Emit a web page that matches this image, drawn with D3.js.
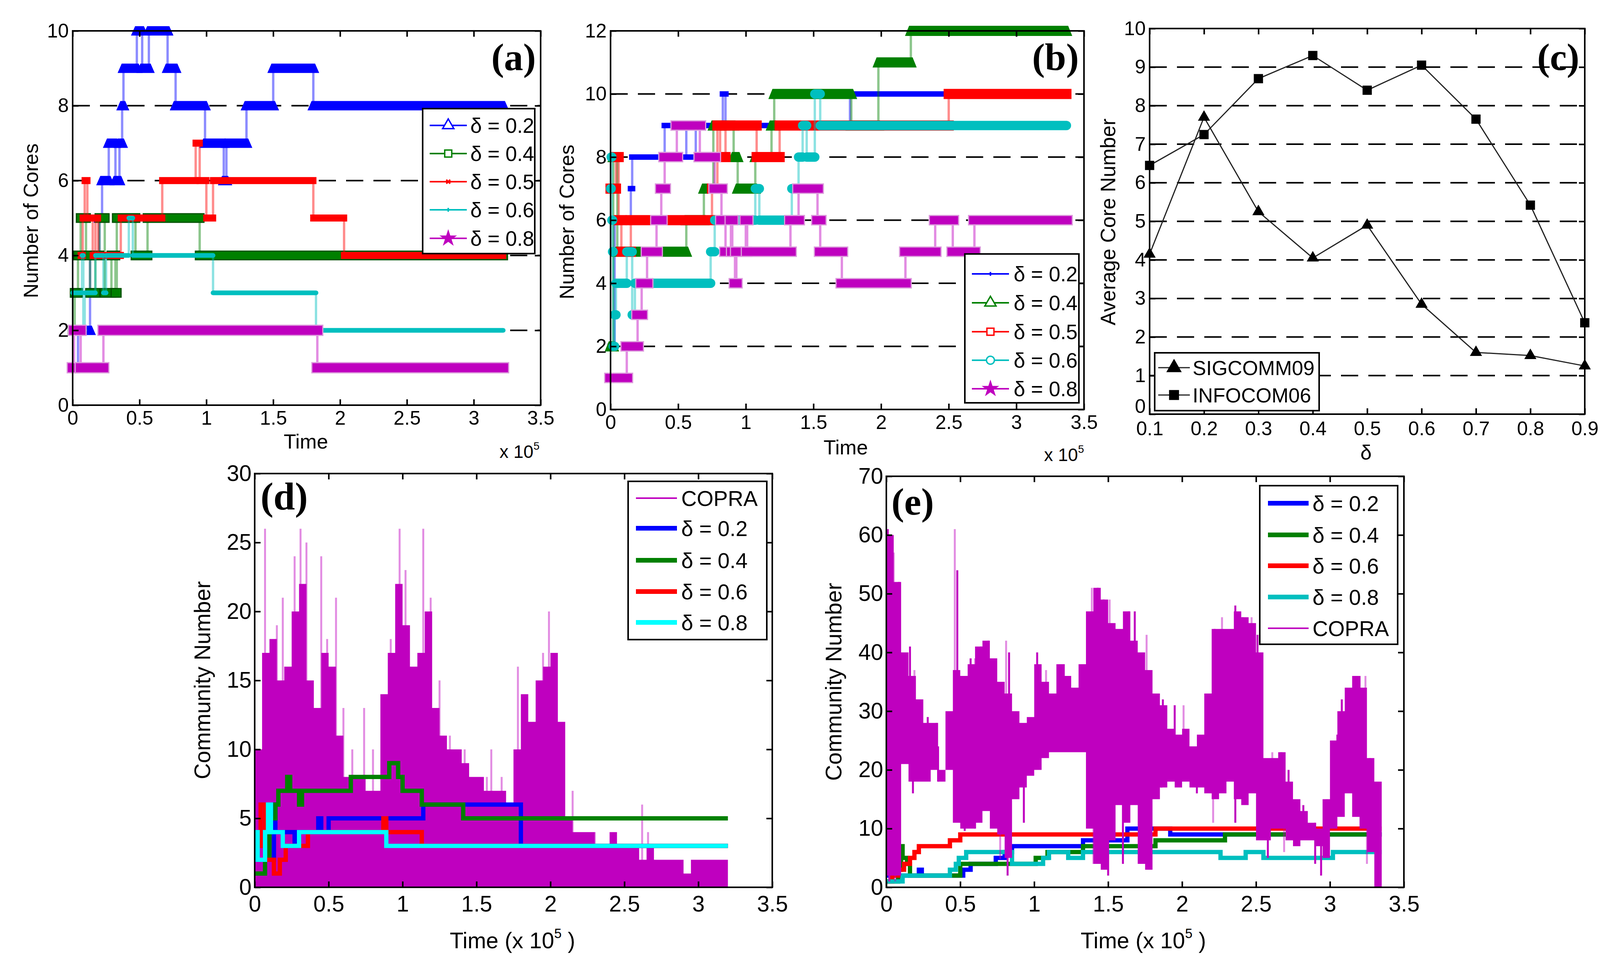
<!DOCTYPE html>
<html>
<head>
<meta charset="utf-8">
<script src="https://cdn.jsdelivr.net/npm/d3@7"></script>
<style>
  body { margin: 0; background: #fff; }
  text { fill: #000; }
</style>
</head>
<body>
<svg id="fig" width="4127" height="2498"></svg>
<script>
// ---------- data ----------
const timeTicks = [0, 0.5, 1, 1.5, 2, 2.5, 3, 3.5];
const coresTicksA = [0, 2, 4, 6, 8, 10];
const coresTicksB = [0, 2, 4, 6, 8, 10, 12];
const deltaTicks = [0.1, 0.2, 0.3, 0.4, 0.5, 0.6, 0.7, 0.8, 0.9];
const avgTicks = [0, 1, 2, 3, 4, 5, 6, 7, 8, 9, 10];
const commTicksD = [0, 5, 10, 15, 20, 25, 30];
const commTicksE = [0, 10, 20, 30, 40, 50, 60, 70];

const labelsAB = ["δ = 0.2", "δ = 0.4", "δ = 0.5", "δ = 0.6", "δ = 0.8"];
const labelsDE = ["δ = 0.2", "δ = 0.4", "δ = 0.6", "δ = 0.8"];

// step series: [time (x 1e5), value]; the last pair marks where the trace stops
const a_d02 = [[0,1],[0.04,2],[0.13,4],[0.2,5],[0.22,6],[0.27,7],[0.32,6],[0.35,7],[0.37,8],[0.38,9],[0.48,10],[0.52,9],[0.57,10],[0.71,9],[0.77,8],[0.99,7],[1.13,6],[1.15,7],[1.3,8],[1.5,9],[1.8,8],[3.22,8]];
const a_d04 = [[0,2],[0.015,3],[0.04,4],[0.06,5],[0.1,4],[0.13,3],[0.17,4],[0.2,5],[0.24,3],[0.29,4],[0.32,3],[0.33,5],[0.47,4],[0.56,5],[0.95,4],[3.22,4]];
const a_d05 = [[0.06,4],[0.075,5],[0.09,6],[0.11,5],[0.15,4],[0.17,5],[0.19,4],[0.36,5],[0.67,6],[0.92,7],[0.95,6],[1.0,5],[1.05,6],[1.8,5],[2.03,4],[3.22,4]];
const a_d06 = [[0,3],[0.07,4],[0.08,2],[0.09,3],[0.17,4],[0.23,3],[0.25,4],[0.42,5],[0.45,4],[1.05,3],[1.82,2],[3.22,2]];
const a_d08 = [[0,1],[0.01,2],[0.06,1],[0.23,2],[1.83,1],[3.22,1]];

const b_d02 = [[0,2],[0.03,6],[0.15,7],[0.16,8],[0.4,9],[0.56,8],[0.63,9],[0.83,10],[0.85,9],[1.77,10],[3.37,10]];
const b_d04 = [[0,2],[0.02,8],[0.05,5],[0.56,6],[0.69,7],[0.76,9],[0.91,8],[0.94,7],[1.07,8],[1.19,9],[1.21,10],[1.78,9],[1.98,11],[2.22,12],[3.37,12]];
const b_d05 = [[0,7],[0.04,8],[0.06,6],[0.08,5],[0.15,6],[0.75,7],[0.79,9],[0.81,8],[0.85,9],[1.08,8],[1.25,9],[2.5,10],[3.37,10]];
const b_d06 = [[0,7],[0.005,8],[0.01,6],[0.015,5],[0.02,2],[0.03,3],[0.04,4],[0.12,5],[0.16,3],[0.18,4],[0.74,5],[0.77,6],[1.07,7],[1.1,6],[1.34,7],[1.39,8],[1.42,9],[1.45,8],[1.51,10],[1.55,9],[3.37,9]];
const b_d08 = [[0,1],[0.12,2],[0.2,3],[0.23,4],[0.27,5],[0.34,6],[0.375,7],[0.4,8],[0.49,9],[0.66,8],[0.77,7],[0.82,6],[0.85,5],[0.89,6],[0.9,5],[0.92,4],[0.93,5],[1.0,6],[1.01,5],[1.33,6],[1.39,7],[1.53,6],[1.55,5],[1.71,4],[2.18,5],[2.4,6],[2.53,5],[2.69,6],[3.37,6]];

const deltaC = [0.1, 0.2, 0.3, 0.4, 0.5, 0.6, 0.7, 0.8, 0.9];
const sigcomm09 = [4.15, 7.7, 5.25, 4.05, 4.9, 2.85, 1.6, 1.52, 1.25];
const infocom06 = [6.45, 7.25, 8.7, 9.3, 8.4, 9.05, 7.65, 5.42, 2.37];

const d_d02 = [[0,2],[0.13,6],[0.14,4],[0.27,3],[0.29,4],[0.43,5],[0.45,4],[0.5,5],[1.14,6],[1.8,3],[3.2,3]];
const d_d04 = [[0,1],[0.07,2],[0.1,5],[0.14,6],[0.16,7],[0.22,8],[0.24,7],[0.3,6],[0.32,7],[0.65,8],[0.91,9],[0.97,8],[1.0,7],[1.13,6],[1.41,5],[3.2,5]];
const d_d06 = [[0,3],[0.04,6],[0.07,2],[0.13,1],[0.17,2],[0.21,3],[0.36,4],[0.87,5],[0.89,4],[1.13,3],[3.2,3]];
const d_d08 = [[0,4],[0.02,2],[0.07,4],[0.09,6],[0.11,4],[0.19,3],[0.3,4],[0.89,3],[3.2,3]];

const e_d02 = [[0,2],[0.22,3],[0.24,2],[0.52,3],[0.57,4],[0.74,5],[0.8,6],[0.85,7],[1.33,8],[1.63,10],[1.92,9],[3.35,9]];
const e_d04 = [[0,1],[0.08,3],[0.1,7],[0.11,5],[0.14,4],[0.16,2],[0.5,4],[1.01,5],[1.09,6],[1.33,7],[1.82,8],[2.29,9],[3.35,9]];
const e_d06 = [[0,1],[0.04,2],[0.08,3],[0.12,4],[0.16,5],[0.19,6],[0.22,7],[0.43,8],[0.5,9],[1.82,10],[3.35,10]];
const e_d08 = [[0,1],[0.11,2],[0.43,3],[0.47,4],[0.49,5],[0.54,6],[0.85,4],[1.06,5],[1.1,6],[1.23,5],[1.33,6],[2.26,5],[2.43,6],[2.55,5],[3.02,6],[3.35,6]];

// COPRA, read per 0.05e5 time bin, plus the isolated peaks / dips
const copraBin = 0.05;
const copraD_hi = [10,17,18,15,16,20,22,15,13,17,16,11,8,8,8,7,7,14,17,22,19,16,17,20,13,11,10,10,9,8,8,7,7,7,6,10,14,12,15,16,17,12,5,4,4,4,3,3,4,3,3,3,2,3,2,2,2,2,1,2,2,2,2,2];
const copraD_spikes = [[0.07,26],[0.15,19],[0.19,21],[0.27,24],[0.31,26],[0.35,25],[0.45,24],[0.49,18],[0.55,21],[0.6,13],[0.66,10],[0.74,13],[0.8,10],[0.92,18],[0.98,26],[1.02,23],[1.14,26],[1.19,21],[1.25,15],[1.32,11],[1.42,10],[1.57,8],[1.6,10],[1.67,8],[1.78,16],[1.84,13],[1.95,17],[1.99,20],[2.04,15],[2.15,7],[2.3,4],[2.62,6],[2.66,4]];
const copraE_hi = [60,52,40,36,32,28,28,20,30,37,36,38,41,42,39,35,33,30,28,29,38,35,33,38,36,34,38,47,51,49,45,44,47,42,40,37,33,31,27,26,27,24,26,33,44,44,44,47,46,45,40,22,22,23,18,15,13,11,10,15,25,30,34,36,34,22,18];
const copraE_lo = [2,2,21,18,18,18,20,18,20,11,10,10,11,13,10,9,5,15,17,19,20,22,23,23,23,23,23,10,4,3,8,14,11,14,4,3,15,17,18,17,18,17,17,16,15,16,18,15,14,16,8,8,10,10,8,7,8,8,7,5,10,12,16,12,10,6,0];
const copraE_up = [[0.01,61],[0.05,57],[0.085,52],[0.16,41],[0.19,37],[0.28,29],[0.34,28],[0.463,61],[0.48,54],[0.57,39],[0.6,39],[0.64,41],[0.69,42],[0.81,42],[0.83,40],[1.02,40],[1.08,37],[1.2,38],[1.24,36],[1.39,51],[1.43,51],[1.47,49],[1.51,49],[1.64,47],[1.68,47],[1.76,43],[1.87,32],[1.95,31],[2.01,31],[2.11,24],[2.22,44],[2.27,46],[2.36,48],[2.41,46],[2.47,46],[2.51,43],[2.53,37],[2.61,23],[2.67,23],[2.72,20],[2.77,14],[2.82,14],[2.9,11],[2.98,15],[3.05,26],[3.08,32],[3.13,33],[3.15,34],[3.2,36],[3.24,36],[3.27,22]];
const copraE_down = [[0.02,1],[0.06,1],[0.18,16],[0.35,18],[0.5,11],[0.53,9.6],[0.6,10],[0.77,4.8],[0.82,2],[0.93,11],[1.4,4],[1.5,2],[1.6,4],[1.76,3],[1.86,17],[2.1,16],[2.21,11],[2.36,11],[2.58,5],[2.69,6],[2.9,4],[2.94,2],[3.25,4],[3.33,0]];

// ---------- drawing ----------
const FONT = "'Liberation Sans', Arial, Helvetica, sans-serif";
const SERIF = "'Liberation Serif', 'Times New Roman', serif";
const blue = "#0000ff", green = "#008000", red = "#ff0000",
      teal = "#00bfbf", cyan = "#00ffff", mag = "#bf00bf";

const svg = d3.select("#fig");
svg.append("rect").attr("width", 4127).attr("height", 2498).attr("fill", "#fff");

function makePanel(box, xDom, yDom) {
  const g = svg.append("g");
  const x = d3.scaleLinear().domain(xDom).range([box.x0, box.x1]);
  const y = d3.scaleLinear().domain(yDom).range([box.y1, box.y0]);
  return { g, under: g.append("g"), plot: g.append("g"), over: g.append("g"), x, y, box };
}

function drawGrid(p, vals) {
  p.under.selectAll("line").data(vals).join("line")
    .attr("x1", p.box.x0).attr("x2", p.box.x1)
    .attr("y1", d => p.y(d)).attr("y2", d => p.y(d))
    .attr("stroke", "#000").attr("stroke-width", 4)
    .attr("stroke-dasharray", "44,26");
}

function drawAxes(p, xTicks, yTicks, o) {
  const b = p.box, tl = 15;
  const put = (axis, tx, ty) => {
    const a = p.over.append("g").attr("transform", `translate(${tx},${ty})`).call(axis);
    a.attr("font-size", o.fs).attr("font-family", FONT);
    a.select(".domain").remove();
    a.selectAll(".tick line").attr("stroke", "#000").attr("stroke-width", 4);
    a.selectAll(".tick text").attr("fill", "#000");
    return a;
  };
  const fmt = d => String(d);
  put(d3.axisBottom(p.x).tickValues(xTicks).tickSize(-tl).tickPadding(o.xpad).tickFormat(fmt), 0, b.y1);
  put(d3.axisTop(p.x).tickValues(xTicks).tickSize(-tl).tickFormat(""), 0, b.y0);
  const left = put(d3.axisLeft(p.y).tickValues(yTicks).tickSize(-tl).tickPadding(o.ypad).tickFormat(fmt), b.x0, 0);
  // MATLAB lifts the bottom y label a little so it clears the x labels
  if (o.liftZero) left.selectAll(".tick text").filter(d => d === yTicks[0]).attr("y", -o.liftZero);
  put(d3.axisRight(p.y).tickValues(yTicks).tickSize(-tl).tickFormat(""), b.x1, 0);
  p.over.append("rect")
    .attr("x", b.x0).attr("y", b.y0).attr("width", b.x1 - b.x0).attr("height", b.y1 - b.y0)
    .attr("fill", "none").attr("stroke", "#000").attr("stroke-width", 4);
}

// thin step trace + thick bands where the dense markers pile up
function drawMarkedSteps(p, s) {
  const line = d3.line().curve(d3.curveStepAfter).x(d => p.x(d[0])).y(d => p.y(d[1]));
  p.plot.append("path").attr("d", line(s.data))
    .attr("fill", "none").attr("stroke", s.color).attr("stroke-width", 6).attr("stroke-opacity", 0.45);
  const segs = d3.pairs(s.data).map(([a, b]) => ({ t0: a[0], t1: b[0], v: a[1] }));
  const h = s.band / 2, m = s.mark / 2;
  const g = p.plot.append("g");
  segs.forEach(sg => {
    const x0 = p.x(sg.t0), x1 = p.x(sg.t1), yy = p.y(sg.v);
    if (s.shape === "tri") {
      g.append("path")
        .attr("d", `M${x0 - m},${yy + h}L${x0 - m * 0.3},${yy - h}L${x1 + m * 0.3},${yy - h}L${x1 + m},${yy + h}Z`)
        .attr("fill", s.color);
    } else if (s.shape === "round") {
      g.append("line").attr("x1", x0).attr("x2", x1).attr("y1", yy).attr("y2", yy)
        .attr("stroke", s.color).attr("stroke-width", s.band).attr("stroke-linecap", "round");
    } else {
      g.append("rect").attr("x", x0 - m).attr("y", yy - h)
        .attr("width", x1 - x0 + 2 * m).attr("height", 2 * h)
        .attr("fill", s.color)
        .attr("stroke", s.edge || "none").attr("stroke-width", s.edge ? 3 : 0);
    }
  });
}

function drawSteps(p, data, color, w) {
  const line = d3.line().curve(d3.curveStepAfter).x(d => p.x(d[0])).y(d => p.y(d[1]));
  p.plot.append("path").attr("d", line(data))
    .attr("fill", "none").attr("stroke", color).attr("stroke-width", w).attr("stroke-linejoin", "miter");
}

function marker(g, type, cx, cy, color, s, filled) {
  if (type === "x" || type === "plus") {
    const r = s / 2;
    const d = type === "x"
      ? `M${cx - r},${cy - r}L${cx + r},${cy + r}M${cx - r},${cy + r}L${cx + r},${cy - r}`
      : `M${cx - r},${cy}L${cx + r},${cy}M${cx},${cy - r}L${cx},${cy + r}`;
    g.append("path").attr("d", d).attr("stroke", color).attr("stroke-width", 4).attr("fill", "none");
    return;
  }
  const sym = { tri: d3.symbolTriangle, square: d3.symbolSquare, circle: d3.symbolCircle, star: d3.symbolStar }[type];
  g.append("path").attr("d", d3.symbol(sym, s * s)())
    .attr("transform", `translate(${cx},${cy})`)
    .attr("fill", filled ? color : "#fff").attr("stroke", color).attr("stroke-width", 3.5);
}

function legend(box, rows, o) {
  const g = svg.append("g").attr("font-family", FONT);
  g.append("rect").attr("x", box.x0).attr("y", box.y0)
    .attr("width", box.x1 - box.x0).attr("height", box.y1 - box.y0)
    .attr("fill", "#fff").attr("stroke", "#000").attr("stroke-width", 4);
  rows.forEach((r, i) => {
    const yy = o.ys[i];
    g.append("line").attr("x1", o.lx0).attr("x2", o.lx1).attr("y1", yy).attr("y2", yy)
      .attr("stroke", r.color).attr("stroke-width", r.lw);
    if (r.m) marker(g, r.m, (o.lx0 + o.lx1) / 2, yy, r.mc || r.color, r.ms, r.filled);
    g.append("text").attr("x", o.tx).attr("y", yy).attr("dy", "0.36em")
      .attr("font-size", o.fs).text(r.label);
  });
}

function text(str, x, y, fs, opt = {}) {
  const t = svg.append("text").attr("x", x).attr("y", y)
    .attr("font-size", fs).attr("font-family", opt.family || FONT)
    .attr("text-anchor", opt.anchor || "middle")
    .attr("font-weight", opt.weight || "normal");
  if (opt.rotate) t.attr("transform", `rotate(-90,${x},${y})`).attr("dominant-baseline", "central");
  return t.text(str);
}

function timesTenLabel(pre, post, x, y, fs, anchor) {
  const t = svg.append("text").attr("x", x).attr("y", y).attr("font-size", fs)
    .attr("font-family", FONT).attr("text-anchor", anchor);
  t.append("tspan").text(pre);
  t.append("tspan").attr("dy", -fs * 0.45).attr("font-size", fs * 0.6).text("5");
  t.append("tspan").attr("dy", fs * 0.45).text(post);
}

// ---------- panel (a) ----------
const pA = makePanel({ x0: 186, x1: 1384, y0: 79, y1: 1037 }, [0, 3.5], [0, 10]);
drawGrid(pA, [2, 4, 6, 8]);
[
  { data: a_d02, color: blue, band: 24, mark: 30, shape: "tri" },
  { data: a_d04, color: green, band: 22, mark: 22, shape: "rect", edge: "#005000" },
  { data: a_d05, color: red, band: 18, mark: 16, shape: "rect" },
  { data: a_d06, color: teal, band: 12, mark: 12, shape: "round" },
  { data: a_d08, color: mag, band: 26, mark: 28, shape: "rect", edge: "#dc9adc" }
].forEach(s => drawMarkedSteps(pA, s));
drawAxes(pA, timeTicks, coresTicksA, { fs: 50, xpad: 14, ypad: 10 });
legend({ x0: 1082, x1: 1369, y0: 278, y1: 649 }, [
  { label: labelsAB[0], color: blue, lw: 4, m: "tri", ms: 19 },
  { label: labelsAB[1], color: green, lw: 4, m: "square", ms: 18 },
  { label: labelsAB[2], color: red, lw: 4, m: "x", ms: 10 },
  { label: labelsAB[3], color: teal, lw: 4, m: "plus", ms: 10 },
  { label: labelsAB[4], color: mag, lw: 4, m: "star", ms: 19, filled: true }
], { ys: [321, 393, 465, 537, 610], lx0: 1100, lx1: 1195, tx: 1204, fs: 53 });
text("Number of Cores", 79, 565, 52, { rotate: true });
text("Time", 783, 1148, 52);
timesTenLabel("x 10", "", 1381, 1172, 46, "end");
text("(a)", 1372, 179, 98, { family: SERIF, weight: "bold", anchor: "end" });

// ---------- panel (b) ----------
const pB = makePanel({ x0: 1563, x1: 2775, y0: 79, y1: 1048 }, [0, 3.5], [0, 12]);
drawGrid(pB, [2, 4, 6, 8, 10]);
[
  { data: b_d02, color: blue, band: 14, mark: 16, shape: "rect" },
  { data: b_d04, color: green, band: 26, mark: 30, shape: "tri" },
  { data: b_d05, color: red, band: 26, mark: 26, shape: "rect" },
  { data: b_d06, color: teal, band: 24, mark: 10, shape: "round" },
  { data: b_d08, color: mag, band: 24, mark: 30, shape: "rect", edge: "#dc9adc" }
].forEach(s => drawMarkedSteps(pB, s));
drawAxes(pB, timeTicks, coresTicksB, { fs: 50, xpad: 14, ypad: 10 });
legend({ x0: 2470, x1: 2762, y0: 650, y1: 1031 }, [
  { label: labelsAB[0], color: blue, lw: 4, m: "plus", ms: 10 },
  { label: labelsAB[1], color: green, lw: 4, m: "tri", ms: 19 },
  { label: labelsAB[2], color: red, lw: 4, m: "square", ms: 18 },
  { label: labelsAB[3], color: teal, lw: 4, m: "circle", ms: 18 },
  { label: labelsAB[4], color: mag, lw: 4, m: "star", ms: 19, filled: true }
], { ys: [701, 775, 849, 922, 995], lx0: 2488, lx1: 2583, tx: 2595, fs: 53 });
text("Number of Cores", 1451, 568, 52, { rotate: true });
text("Time", 2165, 1163, 52);
timesTenLabel("x 10", "", 2775, 1180, 46, "end");
text("(b)", 2762, 179, 98, { family: SERIF, weight: "bold", anchor: "end" });

// ---------- panel (c) ----------
const pC = makePanel({ x0: 2943, x1: 4057, y0: 73, y1: 1060 }, [0.1, 0.9], [0, 10]);
drawGrid(pC, [1, 2, 3, 4, 5, 6, 7, 8, 9, 10]);
[
  { vals: sigcomm09, sym: d3.symbolTriangle, size: 420 },
  { vals: infocom06, sym: d3.symbolSquare, size: 560 }
].forEach(s => {
  const pts = deltaC.map((d, i) => [d, s.vals[i]]);
  pC.plot.append("path")
    .attr("d", d3.line().x(d => pC.x(d[0])).y(d => pC.y(d[1]))(pts))
    .attr("fill", "none").attr("stroke", "#222").attr("stroke-width", 3);
  pC.plot.selectAll(null).data(pts).join("path")
    .attr("d", d3.symbol(s.sym, s.size)())
    .attr("transform", d => `translate(${pC.x(d[0])},${pC.y(d[1])})`)
    .attr("fill", "#000");
});
drawAxes(pC, deltaTicks, avgTicks, { fs: 50, xpad: 18, ypad: 10, liftZero: 20 });
legend({ x0: 2956, x1: 3377, y0: 903, y1: 1051 }, [
  { label: "SIGCOMM09", color: "#222", lw: 3, m: "tri", ms: 22, mc: "#000", filled: true },
  { label: "INFOCOM06", color: "#222", lw: 3, m: "square", ms: 22, mc: "#000", filled: true }
], { ys: [941, 1011], lx0: 2965, lx1: 3046, tx: 3053, fs: 52 });
text("Average Core Number", 2836, 568, 53, { rotate: true });
text("δ", 3497, 1176, 52);
text("(c)", 4043, 179, 97, { family: SERIF, weight: "bold", anchor: "end" });

// ---------- panel (d) ----------
const pD = makePanel({ x0: 652, x1: 1977, y0: 1212, y1: 2271 }, [0, 3.5], [0, 30]);
pD.plot.selectAll(null).data(copraD_spikes).join("line")
  .attr("x1", d => pD.x(d[0])).attr("x2", d => pD.x(d[0]))
  .attr("y1", pD.y(0)).attr("y2", d => pD.y(d[1]))
  .attr("stroke", mag).attr("stroke-opacity", 0.45).attr("stroke-width", 5);
const bodyD = copraD_hi.map((v, i) => [i * copraBin, v]).concat([[copraD_hi.length * copraBin, 0]]);
pD.plot.append("path")
  .attr("d", d3.area().curve(d3.curveStepAfter).x(d => pD.x(d[0])).y0(pD.y(0)).y1(d => pD.y(d[1]))(bodyD))
  .attr("fill", mag);
drawSteps(pD, d_d02, blue, 11);
drawSteps(pD, d_d04, green, 11);
drawSteps(pD, d_d06, red, 11);
drawSteps(pD, d_d08, cyan, 11);
drawAxes(pD, timeTicks, commTicksD, { fs: 57, xpad: 22, ypad: 8 });
legend({ x0: 1608, x1: 1963, y0: 1232, y1: 1637 }, [
  { label: "COPRA", color: mag, lw: 4 },
  { label: labelsDE[0], color: blue, lw: 12 },
  { label: labelsDE[1], color: green, lw: 12 },
  { label: labelsDE[2], color: red, lw: 12 },
  { label: labelsDE[3], color: cyan, lw: 12 }
], { ys: [1275, 1352, 1434, 1514, 1593], lx0: 1628, lx1: 1733, tx: 1744, fs: 55 });
text("Community Number", 518, 1741, 57, { rotate: true });
timesTenLabel("Time (x 10", " )", 1312, 2427, 57, "middle");
text("(d)", 667, 1304, 99, { family: SERIF, weight: "bold", anchor: "start" });

// ---------- panel (e) ----------
const pE = makePanel({ x0: 2269, x1: 3594, y0: 1219, y1: 2271 }, [0, 3.5], [0, 70]);
drawSteps(pE, e_d02, blue, 11);
drawSteps(pE, e_d04, green, 11);
drawSteps(pE, e_d06, red, 11);
drawSteps(pE, e_d08, teal, 11);
const binE = t => Math.min(copraE_hi.length - 1, Math.floor(t / copraBin));
const midE = t => (copraE_hi[binE(t)] + copraE_lo[binE(t)]) / 2;
const whiskers = pE.plot.append("g");
whiskers.selectAll(null).data(copraE_up.concat(copraE_down)).join("line")
  .attr("x1", d => pE.x(d[0])).attr("x2", d => pE.x(d[0]))
  .attr("y1", d => pE.y(midE(d[0]))).attr("y2", d => pE.y(d[1]))
  .attr("stroke", mag).attr("stroke-width", 5)
  .attr("stroke-opacity", (d, i) => i % 3 === 1 ? 0.45 : 1);
const bandE = copraE_hi.map((v, i) => ({ t: i * copraBin, hi: v, lo: copraE_lo[i] }));
bandE.push({ t: copraE_hi.length * copraBin, hi: 0, lo: 0 });
pE.plot.append("path")
  .attr("d", d3.area().curve(d3.curveStepAfter).x(d => pE.x(d.t)).y0(d => pE.y(d.lo)).y1(d => pE.y(d.hi))(bandE))
  .attr("fill", mag);
drawAxes(pE, timeTicks, commTicksE, { fs: 57, xpad: 22, ypad: 8 });
legend({ x0: 3225, x1: 3578, y0: 1243, y1: 1649 }, [
  { label: labelsDE[0], color: blue, lw: 12 },
  { label: labelsDE[1], color: green, lw: 12 },
  { label: labelsDE[2], color: red, lw: 12 },
  { label: labelsDE[3], color: teal, lw: 12 },
  { label: "COPRA", color: mag, lw: 4 }
], { ys: [1288, 1369, 1448, 1528, 1608], lx0: 3246, lx1: 3350, tx: 3360, fs: 55 });
text("Community Number", 2134, 1745, 57, { rotate: true });
timesTenLabel("Time (x 10", " )", 2927, 2427, 57, "middle");
text("(e)", 2282, 1317, 98, { family: SERIF, weight: "bold", anchor: "start" });
</script>
</body>
</html>
